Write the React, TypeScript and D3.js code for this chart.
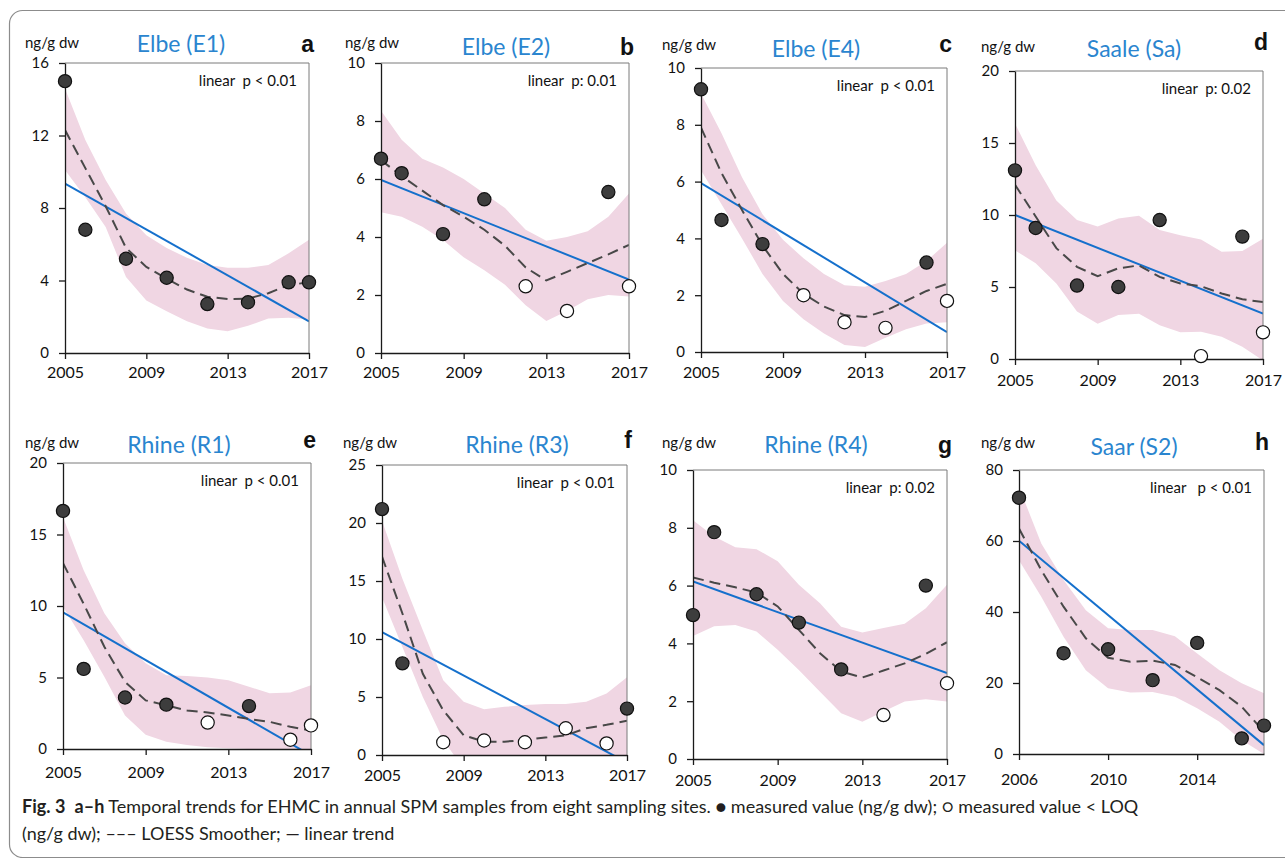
import React, {useRef, useEffect} from 'react';
import * as d3 from 'd3';

// sampling years (points) and years of the smoother / confidence band
const years = [2005, 2006, 2008, 2010, 2012, 2014, 2016, 2017];
const yearsS2 = [2006, 2008, 2010, 2012, 2014, 2016, 2017];
const smoothYears = [2005, 2006, 2007, 2008, 2009, 2010, 2011, 2012, 2013, 2014, 2015, 2016, 2017];
const smoothYearsS2 = [2006, 2007, 2008, 2009, 2010, 2011, 2012, 2013, 2014, 2015, 2016, 2017];

// a: Elbe (E1)
const valuesE1 = [15.0, 6.8, 5.2, 4.15, 2.7, 2.8, 3.9, 3.9];
const loqE1 = [0, 0, 0, 0, 0, 0, 0, 0];
const loessE1 = [12.3, 10.2, 8.1, 5.8, 4.75, 4.1, 3.5, 3.1, 2.98, 3.0, 3.3, 3.75, 3.9];
const upperE1 = [14.6, 11.75, 9.55, 7.7, 6.5, 5.8, 5.25, 4.85, 4.7, 4.7, 4.85, 5.5, 6.25];
const lowerE1 = [10.1, 8.6, 6.95, 4.2, 2.9, 2.3, 1.75, 1.35, 1.2, 1.5, 1.9, 1.95, 1.85];
const trendE1 = [9.35, 1.75];

// b: Elbe (E2)
const valuesE2 = [6.7, 6.2, 4.1, 5.3, 2.3, 1.45, 5.55, 2.3];
const loqE2 = [0, 0, 0, 0, 1, 1, 0, 1];
const loessE2 = [6.65, 6.1, 5.6, 5.1, 4.7, 4.25, 3.7, 2.95, 2.5, 2.8, 3.1, 3.4, 3.73];
const upperE2 = [8.35, 7.35, 6.7, 6.4, 6.0, 5.5, 5.0, 4.25, 3.87, 4.0, 4.2, 4.7, 5.5];
const lowerE2 = [4.85, 4.7, 4.35, 3.9, 3.3, 2.85, 2.35, 1.65, 1.1, 1.45, 1.85, 2.0, 1.95];
const trendE2 = [5.97, 2.53];

// c: Elbe (E4)
const valuesE4 = [9.25, 4.65, 3.8, 2.0, 1.05, 0.85, 3.15, 1.8];
const loqE4 = [0, 0, 0, 1, 1, 1, 0, 1];
const loessE4 = [7.9, 6.3, 5.0, 3.75, 2.75, 2.05, 1.6, 1.3, 1.23, 1.45, 1.8, 2.15, 2.4];
const upperE4 = [9.1, 7.7, 6.15, 4.85, 3.95, 3.3, 2.75, 2.35, 2.3, 2.5, 2.75, 3.2, 3.85];
const lowerE4 = [6.4, 5.2, 4.0, 2.75, 1.8, 1.15, 0.65, 0.25, 0.18, 0.5, 0.8, 1.0, 1.05];
const trendE4 = [5.95, 0.7];

// d: Saale (Sa)
const valuesSa = [13.1, 9.1, 5.1, 5.0, 9.65, 0.2, 8.5, 1.85];
const loqSa = [0, 0, 0, 0, 0, 1, 0, 1];
const loessSa = [12.1, 9.9, 7.7, 6.4, 5.75, 6.3, 6.5, 5.7, 5.25, 5.05, 4.55, 4.15, 3.95];
const upperSa = [16.35, 13.45, 11.0, 9.65, 9.2, 9.75, 9.95, 8.95, 8.6, 8.3, 7.45, 7.5, 8.35];
const lowerSa = [7.55, 6.65, 5.25, 3.3, 2.45, 3.05, 3.15, 2.35, 1.85, 1.9, 1.55, 0.85, -0.1];
const trendSa = [10.0, 3.15];

// e: Rhine (R1)
const valuesR1 = [16.65, 5.6, 3.6, 3.1, 1.85, 3.0, 0.65, 1.65];
const loqR1 = [0, 0, 0, 0, 1, 0, 1, 1];
const loessR1 = [13.0, 10.15, 7.15, 4.7, 3.4, 3.05, 2.7, 2.55, 2.35, 2.1, 1.9, 1.55, 1.3];
const upperR1 = [16.2, 12.5, 9.5, 7.4, 6.0, 5.15, 5.1, 5.0, 4.8, 4.35, 3.9, 3.95, 4.45];
const lowerR1 = [9.95, 7.6, 5.05, 2.35, 1.0, 0.5, 0.28, 0.12, 0.05, 0, 0, 0, 0];
const trendR1 = [9.55, -0.45];

// f: Rhine (R3)
const valuesR3 = [21.2, 7.9, 1.1, 1.25, 1.1, 2.3, 1.0, 4.0];
const loqR3 = [0, 0, 1, 1, 1, 1, 1, 0];
const loessR3 = [17.1, 12.2, 7.0, 3.85, 1.7, 1.15, 1.15, 1.3, 1.5, 1.7, 2.3, 2.6, 2.95];
const upperR3 = [20.2, 15.2, 10.75, 6.45, 4.6, 3.95, 4.15, 4.3, 4.4, 4.4, 4.6, 5.3, 6.7];
const lowerR3 = [13.6, 9.3, 5.0, 1.3, -1.2, 0, 0, 0, 0, 0, 0, 0, 0];
const trendR3 = [10.6, -0.65];

// g: Rhine (R4)
const valuesR4 = [4.98, 7.85, 5.7, 4.72, 3.1, 1.52, 6.0, 2.62];
const loqR4 = [0, 0, 0, 0, 0, 1, 0, 1];
const loessR4 = [6.28, 6.1, 5.94, 5.76, 5.28, 4.47, 3.66, 3.03, 2.82, 3.06, 3.31, 3.64, 4.04];
const upperR4 = [8.26, 7.7, 7.33, 7.26, 6.84, 6.03, 5.39, 4.58, 4.38, 4.53, 4.68, 5.22, 6.03];
const lowerR4 = [4.26, 4.59, 4.64, 4.41, 3.78, 3.08, 2.33, 1.58, 1.29, 1.64, 1.99, 2.07, 1.99];
const trendR4 = [6.14, 2.97];

// h: Saar (S2)
const valuesS2 = [72.2, 28.4, 29.5, 20.8, 31.3, 4.4, 8.0];
const loqS2 = [0, 0, 0, 0, 0, 0, 0];
const loessS2 = [63.5, 51.8, 41.5, 32.6, 27.1, 26.0, 26.3, 25.1, 21.6, 18.0, 13.3, 6.3];
const upperS2 = [75.2, 59.3, 49.0, 40.5, 35.4, 34.9, 34.9, 33.2, 28.3, 23.6, 19.9, 17.1];
const lowerS2 = [54.6, 44.3, 33.0, 23.6, 18.5, 17.3, 17.5, 16.1, 12.9, 9.1, 3.9, 0];
const trendS2 = [60.1, 2.5];

const titles = ['Elbe (E1)', 'Elbe (E2)', 'Elbe (E4)', 'Saale (Sa)', 'Rhine (R1)', 'Rhine (R3)', 'Rhine (R4)', 'Saar (S2)'];
const letters = ['a', 'b', 'c', 'd', 'e', 'f', 'g', 'h'];
const pTexts = ['linear  p < 0.01', 'linear  p: 0.01', 'linear  p < 0.01', 'linear  p: 0.02',
    'linear  p < 0.01', 'linear  p < 0.01', 'linear  p: 0.02', 'linear   p < 0.01'];
const yTicks = [[0, 4, 8, 12, 16], [0, 2, 4, 6, 8, 10], [0, 2, 4, 6, 8, 10], [0, 5, 10, 15, 20],
    [0, 5, 10, 15, 20], [0, 5, 10, 15, 20, 25], [0, 2, 4, 6, 8, 10], [0, 20, 40, 60, 80]];
const xTicks = [2005, 2009, 2013, 2017];
const xTicksS2 = [2006, 2010, 2014];

// layout of each panel on the page
const layout = [
    {left: 65, right: 309, top: 63, bottom: 353, titleX: 181, titleY: 52, unitX: 25, unitY: 48, letterY: 52, labelY: 378},
    {left: 381, right: 629, top: 63, bottom: 353, titleX: 506, titleY: 55, unitX: 345, unitY: 48, letterY: 55, labelY: 378},
    {left: 701, right: 947, top: 68, bottom: 352, titleX: 816, titleY: 57, unitX: 662, unitY: 50, letterY: 52, labelY: 378},
    {left: 1015, right: 1263, top: 71, bottom: 359, titleX: 1134, titleY: 57, unitX: 981, unitY: 52, letterY: 50, labelY: 386},
    {left: 63, right: 311, top: 463, bottom: 749, titleX: 179, titleY: 453, unitX: 25, unitY: 448, letterY: 448, labelY: 778},
    {left: 382, right: 627, top: 465, bottom: 755, titleX: 517, titleY: 453, unitX: 343, unitY: 448, letterY: 448, labelY: 781},
    {left: 693, right: 947, top: 470, bottom: 759, titleX: 816, titleY: 453, unitX: 662, unitY: 448, letterY: 453, labelY: 786},
    {left: 1019, right: 1264, top: 470, bottom: 754, titleX: 1134, titleY: 455, unitX: 981, unitY: 448, letterY: 450, labelY: 785},
];

const panels = [
    {years, values: valuesE1, loq: loqE1, sy: smoothYears, loess: loessE1, upper: upperE1, lower: lowerE1, trend: trendE1, xDomain: [2005, 2017], xt: xTicks},
    {years, values: valuesE2, loq: loqE2, sy: smoothYears, loess: loessE2, upper: upperE2, lower: lowerE2, trend: trendE2, xDomain: [2005, 2017], xt: xTicks},
    {years, values: valuesE4, loq: loqE4, sy: smoothYears, loess: loessE4, upper: upperE4, lower: lowerE4, trend: trendE4, xDomain: [2005, 2017], xt: xTicks},
    {years, values: valuesSa, loq: loqSa, sy: smoothYears, loess: loessSa, upper: upperSa, lower: lowerSa, trend: trendSa, xDomain: [2005, 2017], xt: xTicks},
    {years, values: valuesR1, loq: loqR1, sy: smoothYears, loess: loessR1, upper: upperR1, lower: lowerR1, trend: trendR1, xDomain: [2005, 2017], xt: xTicks},
    {years, values: valuesR3, loq: loqR3, sy: smoothYears, loess: loessR3, upper: upperR3, lower: lowerR3, trend: trendR3, xDomain: [2005, 2017], xt: xTicks},
    {years, values: valuesR4, loq: loqR4, sy: smoothYears, loess: loessR4, upper: upperR4, lower: lowerR4, trend: trendR4, xDomain: [2005, 2017], xt: xTicks},
    {years: yearsS2, values: valuesS2, loq: loqS2, sy: smoothYearsS2, loess: loessS2, upper: upperS2, lower: lowerS2, trend: trendS2, xDomain: [2006, 2017], xt: xTicksS2},
];

const FONT = 'Lato, "Liberation Sans", sans-serif';

const Panel: React.FC<{index: number}> = ({index}) => {
    const ref = useRef<SVGGElement | null>(null);

    useEffect(() => {
        if (!ref.current) return;
        const p = panels[index];
        const L = layout[index];
        const ticks = yTicks[index];
        const g = d3.select(ref.current);
        g.selectAll('*').remove();

        const x = d3.scaleLinear().domain(p.xDomain).range([L.left, L.right]);
        const y = d3.scaleLinear().domain([0, ticks[ticks.length - 1]]).range([L.bottom, L.top]);

        const clipId = 'clip-' + letters[index];
        g.append('clipPath').attr('id', clipId)
            .append('rect')
            .attr('x', L.left).attr('y', L.top)
            .attr('width', L.right - L.left).attr('height', L.bottom - L.top);

        const plot = g.append('g').attr('clip-path', `url(#${clipId})`);

        // confidence band of the smoother
        const band = d3.area<number>()
            .x((d, i) => x(p.sy[i]))
            .y0((d, i) => y(p.lower[i]))
            .y1((d) => y(d));
        plot.append('path').datum(p.upper).attr('d', band).attr('fill', '#f0d6e3');

        // linear trend
        const line = d3.line<number>().x((d, i) => x(p.xDomain[i])).y((d) => y(d));
        plot.append('path').datum(p.trend).attr('d', line)
            .attr('fill', 'none').attr('stroke', '#1570cc').attr('stroke-width', 2);

        // LOESS smoother
        const smooth = d3.line<number>().x((d, i) => x(p.sy[i])).y((d) => y(d));
        plot.append('path').datum(p.loess).attr('d', smooth)
            .attr('fill', 'none').attr('stroke', '#484848').attr('stroke-width', 2)
            .attr('stroke-dasharray', '11,6');

        // plot frame (top / right)
        g.append('path')
            .attr('d', `M${L.left},${L.top}H${L.right}V${L.bottom}`)
            .attr('fill', 'none').attr('stroke', '#7a7a7a').attr('stroke-width', 1);

        const yAxis = g.append('g')
            .attr('transform', `translate(${L.left},0)`)
            .call(d3.axisLeft(y).tickValues(ticks).tickSize(6).tickSizeOuter(0).tickPadding(10).tickFormat(d3.format('d')));
        yAxis.selectAll('text').attr('font-family', FONT).attr('font-size', 15).attr('fill', '#111');

        const xAxis = g.append('g')
            .attr('transform', `translate(0,${L.bottom})`)
            .call(d3.axisBottom(x).tickValues(p.xt).tickSize(6).tickSizeOuter(0).tickFormat(d3.format('d')));
        xAxis.selectAll('text')
            .attr('y', L.labelY - L.bottom).attr('dy', 0)
            .attr('font-family', FONT).attr('font-size', 16).attr('fill', '#111');
        g.selectAll('.domain, .tick line').attr('stroke', '#1a1a1a').attr('stroke-width', 1.3);

        // measured values
        g.append('g').selectAll('circle')
            .data(p.values)
            .join('circle')
            .attr('cx', (d, i) => x(p.years[i]))
            .attr('cy', (d) => y(d))
            .attr('r', 6.6)
            .attr('fill', (d, i) => p.loq[i] ? '#ffffff' : '#3d3d3d')
            .attr('stroke', '#111')
            .attr('stroke-width', 1.2);

        // texts
        g.append('text').attr('x', L.unitX).attr('y', L.unitY)
            .attr('font-family', FONT).attr('font-size', 15).attr('fill', '#111')
            .text('ng/g dw');
        g.append('text').attr('x', L.titleX).attr('y', L.titleY)
            .attr('text-anchor', 'middle')
            .attr('font-family', FONT).attr('font-size', 23).attr('fill', '#2a85cf')
            .text(titles[index]);
        g.append('text').attr('x', L.right + 5).attr('y', L.letterY)
            .attr('text-anchor', 'end')
            .attr('font-family', '"Liberation Sans", Arial, sans-serif').attr('font-weight', 'bold')
            .attr('font-size', 23).attr('fill', '#111')
            .text(letters[index]);
        g.append('text').attr('x', L.right - 12).attr('y', L.top + 23)
            .attr('text-anchor', 'end')
            .style('white-space', 'pre')
            .attr('font-family', FONT).attr('font-size', 15).attr('fill', '#111')
            .text(pTexts[index]);
    }, [index]);

    return <g ref={ref}></g>;
};

const App: React.FC = () => {
    return (
        <svg width={1285} height={858} style={{position: 'absolute', left: 0, top: 0, background: '#fff'}}>
            <rect x={9.5} y={10.5} width={1320} height={847} rx={13} fill="none" stroke="#8c8c8c" strokeWidth={1.2} />
            {panels.map((p, i) => <Panel key={i} index={i} />)}
            <text x={22} y={813} fontFamily={FONT} fontSize={18} fill="#231f20" style={{whiteSpace: 'pre'}}>
                <tspan fontWeight="bold">Fig. 3</tspan>
                <tspan>{'  '}</tspan>
                <tspan fontWeight="bold">a–h</tspan>
                <tspan>{' Temporal trends for EHMC in annual SPM samples from eight sampling sites. ● measured value (ng/g dw); ○ measured value < LOQ'}</tspan>
            </text>
            <text x={22} y={840} fontFamily={FONT} fontSize={18} fill="#231f20" style={{whiteSpace: 'pre'}}>
                (ng/g dw); ––– LOESS Smoother; — linear trend
            </text>
        </svg>
    );
};

export default App;
